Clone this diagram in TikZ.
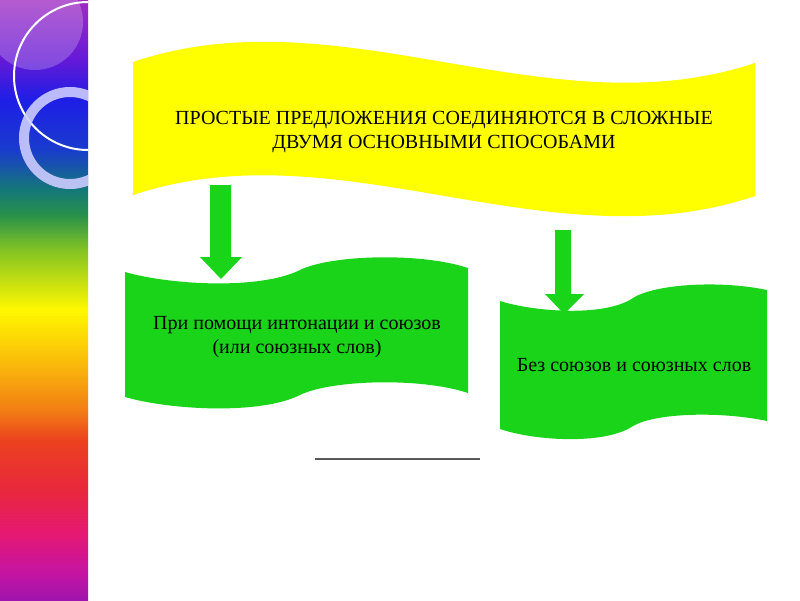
\documentclass[tikz,border=0pt]{standalone}
\usepackage{fontspec}
\setmainfont{Liberation Serif}
\definecolor{bannerY}{RGB}{255,255,0}
\definecolor{bannerG}{RGB}{25,212,25}
\definecolor{rbA}{RGB}{160,20,175}
\definecolor{rbB}{RGB}{200,20,160}
\definecolor{rbC}{RGB}{230,25,110}
\definecolor{rbD}{RGB}{232,40,60}
\definecolor{rbE}{RGB}{235,65,30}
\definecolor{rbF}{RGB}{242,125,20}
\definecolor{rbG}{RGB}{250,190,10}
\definecolor{rbH}{RGB}{255,248,0}
\definecolor{rbI}{RGB}{130,195,35}
\definecolor{rbJ}{RGB}{40,145,75}
\definecolor{rbK}{RGB}{20,120,120}
\definecolor{rbL}{RGB}{25,60,205}
\definecolor{rbM}{RGB}{30,30,230}
\definecolor{rbN}{RGB}{100,25,215}
\definecolor{rbO}{RGB}{160,45,195}
\pgfdeclareverticalshading{rainbow}{100bp}{color(0bp)=(rbA); color(25bp)=(rbA); color(27.5bp)=(rbB); color(30.8bp)=(rbC); color(34.2bp)=(rbD); color(38.3bp)=(rbE); color(40.8bp)=(rbF); color(45bp)=(rbG); color(49.2bp)=(rbH); color(54.2bp)=(rbI); color(57.1bp)=(rbJ); color(59.2bp)=(rbK); color(62.5bp)=(rbL); color(66.7bp)=(rbM); color(70bp)=(rbN); color(75bp)=(rbO); color(100bp)=(rbO)}
\begin{document}
\begin{tikzpicture}[x=1pt,y=-1pt,
  bannertext/.style={font=\fontsize{20}{24}\selectfont, align=center, text=black},
  greenfill/.style={fill=bannerG}]
\useasboundingbox (0,0) rectangle (800,600);
\fill[white] (0,0) rectangle (800,600);
% rainbow strip
\fill[shading=rainbow] (0,0) rectangle (88,600);
\begin{scope}
  \clip (0,0) rectangle (88,600);
  \fill[white,opacity=0.22] (35,22) circle (48pt);
  \draw[white,line width=2pt] (88,76) circle (74pt);
  \draw[white!80!blue,opacity=0.9,line width=10pt] (70,138) circle (46pt);
\end{scope}
% arrows
\fill[greenfill] (210,185) -- (231,185) -- (231,257) -- (242,257) -- (221,279) -- (200,257) -- (210,257) -- cycle;
\fill[greenfill] (555,230) -- (571,230) -- (571,294) -- (584,294) -- (564,314) -- (545,294) -- (555,294) -- cycle;
% green banners
\fill[greenfill] (125,272) .. controls (170,285) and (260,290) .. (300,270)
   .. controls (330,255) and (420,252) .. (468,268)
   -- (468,393) .. controls (420,377) and (330,380) .. (300,395)
   .. controls (260,415) and (170,410) .. (125,397) -- cycle;
\fill[greenfill] (500,301) .. controls (535,312) and (605,317) .. (633,298)
   .. controls (655,284) and (720,280) .. (767,290)
   -- (767,421) .. controls (720,411) and (655,413) .. (633,426)
   .. controls (605,445) and (535,441) .. (500,429) -- cycle;
% yellow banner
\fill[bannerY] (133,62) .. controls (340,-8) and (548,132) .. (755,63)
   -- (755,196) .. controls (548,266) and (340,126) .. (133,195) -- cycle;
% texts
\node[bannertext] (title) at (444,132) {ПРОСТЫЕ ПРЕДЛОЖЕНИЯ СОЕДИНЯЮТСЯ В СЛОЖНЫЕ\\ДВУМЯ ОСНОВНЫМИ СПОСОБАМИ};
\node[bannertext] (left) at (297,337) {При помощи интонации и союзов\\(или союзных слов)};
\node[bannertext] (right) at (634,365) {Без союзов и союзных слов};
% line
\coordinate (lineL) at (315,459);
\coordinate (lineR) at (480,459);
\draw[black!65,line width=1.5pt] (lineL) -- (lineR);
\end{tikzpicture}
\end{document}
